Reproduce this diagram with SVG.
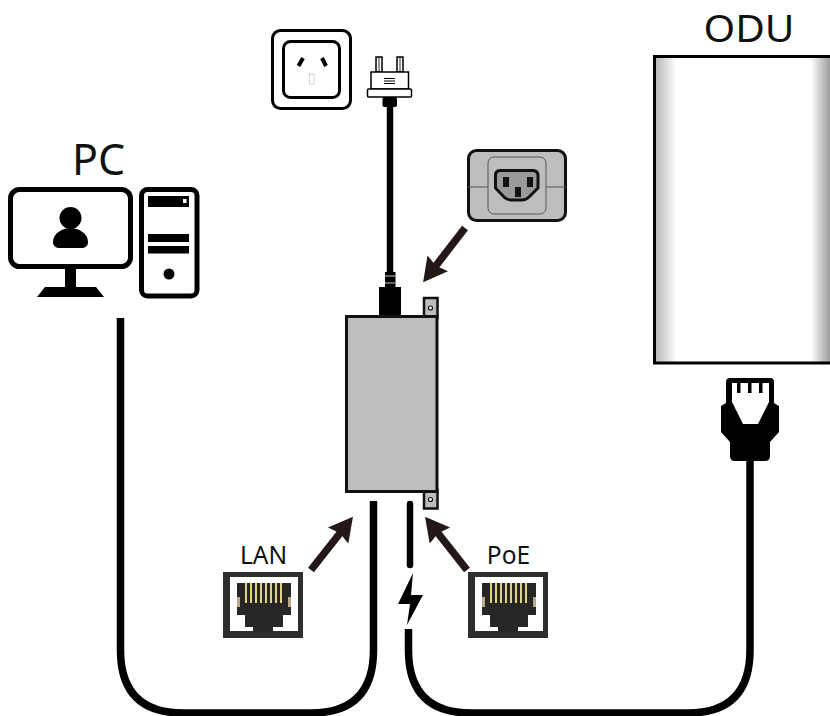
<svg xmlns="http://www.w3.org/2000/svg" width="830" height="716" viewBox="0 0 830 716">
<style>
text{font-family:"Noto Sans","Open Sans","Liberation Sans",sans-serif;fill:#111}
.cable{fill:none;stroke:#000;stroke-width:7.500}
.arrow{fill:none;stroke:#231815;stroke-width:7.500;marker-end:url(#ah)}
.pin{stroke:#ecdc8c;stroke-width:1.900;fill:none}
</style>
<defs>
<marker id="ah" markerUnits="userSpaceOnUse" markerWidth="26" markerHeight="28" refX="16" refY="13" orient="auto"><path d="M0 0L24 13L0 26L3 13Z" fill="#231815"/></marker>
<linearGradient id="odu" gradientUnits="userSpaceOnUse" x1="655" x2="830" y1="0" y2="0"><stop offset="0" stop-color="#b4b4b4"/><stop offset="0.12" stop-color="#fff"/><stop offset="0.89" stop-color="#fff"/><stop offset="1" stop-color="#9c9c9c"/></linearGradient>
<g id="rj"><rect x="0" y="0" width="80" height="66" fill="#2e2e2c"/><rect x="7" y="5" width="68" height="54" fill="#fff"/><path d="M14 11H68V43H60V55H50V60H30V55H22V43H14Z" fill="#262624"/><path d="M14 25h3v10h-3zM65 25h3v10h-3z" fill="#b9a98a"/><path class="pin" d="M23 11V31M28 11V31M33 11V31M38 11V31M43 11V31M48 11V31M53 11V31M58 11V31"/></g>
</defs>
<rect width="830" height="716" fill="#fff"/>
<g id="connectors">
<path class="cable" d="M120.500 318V650Q120.500 713 183 713H311Q373.500 713 373.500 650V501"/>
<path class="cable" d="M408.500 629V650Q408.500 713 471 713H688Q750 713 750 650V455"/>
<path class="cable" stroke-linecap="round" d="M410 504V565" style="stroke-width:6.500"/>
<path class="cable" d="M390 105V272" style="stroke-width:6.500"/>
<path class="arrow" d="M465 228L428 276"/>
<path class="arrow" d="M311 570L348 523"/>
<path class="arrow" d="M467 570L430 523"/>
</g>
<g id="pc">
<text x="98.500" y="175" font-size="43" text-anchor="middle">PC</text>
<rect x="10.500" y="189.500" width="120" height="77" rx="9" fill="#fff" stroke="#000" stroke-width="5"/>
<circle cx="70.500" cy="218" r="11" fill="#000"/><path d="M53 242C53 233 63 228 70.500 228S88 233 88 242C88 246 85 248 81 248H60C56 248 53 246 53 242Z" fill="#000"/>
<path d="M65 268H76V287H96L104 297H37L45 287H65Z" fill="#000"/>
<rect x="141.500" y="189.500" width="55.500" height="106.500" rx="6" fill="#fff" stroke="#000" stroke-width="5"/>
<rect x="148" y="196" width="41" height="11" fill="#000"/><rect x="183" y="199" width="3.500" height="4" fill="#fff"/>
<rect x="148" y="234" width="41" height="8" fill="#000"/><rect x="148" y="246" width="41" height="7.500" fill="#000"/>
<circle cx="169" cy="274" r="5.500" fill="#000"/>
</g>
<g id="socket">
<rect x="272.500" y="30.500" width="78" height="78" rx="8" fill="#fff" stroke="#000" stroke-width="3"/>
<rect x="283.500" y="41.500" width="56" height="56" rx="7" fill="#fff" stroke="#000" stroke-width="3"/>
<path d="M303 58L298.500 66M322 58L326 66" stroke="#000" stroke-width="4" fill="none"/>
<rect x="309.500" y="74" width="4.500" height="10" fill="#fff" stroke="#999" stroke-width="0.800" stroke-dasharray="1 1"/>
</g>
<g id="plug">
<rect x="376" y="57" width="6" height="15" fill="#fff" stroke="#000" stroke-width="1.500"/><path d="M379 57V72" stroke="#000" stroke-width="0.800"/><rect x="397" y="57" width="6" height="15" fill="#fff" stroke="#000" stroke-width="1.500"/><path d="M400 57V72" stroke="#000" stroke-width="0.800"/>
<rect x="371" y="72" width="37.500" height="17" fill="#fff" stroke="#000" stroke-width="1.500"/>
<path d="M384 78.500H395M384 81H395M384 83.500H395" stroke="#000" stroke-width="1.200"/>
<rect x="367.500" y="89" width="44" height="8" rx="1" fill="#fff" stroke="#000" stroke-width="1.500"/>
<rect x="382.500" y="97" width="14.500" height="10" rx="2" fill="#000"/>
</g>
<g id="iec">
<rect x="468.500" y="150.500" width="97" height="70" rx="8" fill="#bdbdbd" stroke="#111" stroke-width="3"/>
<path d="M468 187H488M546 187H566" stroke="#555" stroke-width="1"/>
<rect x="488" y="157" width="58" height="57" rx="6" fill="#bdbdbd" stroke="#555" stroke-width="1"/>
<path d="M500 170.500H533Q538 170.500 538 175.500V188L529 197Q526 200 522 200H511Q507 200 504 197L495.500 188V175.500Q495.500 170.500 500 170.500Z" fill="#999" stroke="#111" stroke-width="3"/>
<rect x="503" y="177" width="6" height="10" fill="#111"/><rect x="527" y="177" width="6" height="10" fill="#111"/><rect x="515" y="187" width="6" height="10" fill="#111"/>
</g>
<g id="poe-injector">
<rect x="379" y="287" width="22" height="29" fill="#000"/>
<rect x="385" y="272" width="10.500" height="16" fill="#000"/><path d="M385 276H395.500M385 283H395.500" stroke="#888" stroke-width="1.300"/>
<rect x="424" y="298" width="13.500" height="20" fill="#bdbdbd" stroke="#111" stroke-width="2.500"/><circle cx="430.500" cy="308" r="2" fill="#fff" stroke="#111" stroke-width="1.200"/>
<rect x="424" y="490" width="13.500" height="18.500" fill="#bdbdbd" stroke="#111" stroke-width="2.500"/><circle cx="430.500" cy="499.500" r="2" fill="#fff" stroke="#111" stroke-width="1.200"/>
<rect x="346.500" y="316.500" width="90.500" height="175" fill="#bdbdbd" stroke="#111" stroke-width="3"/>
</g>
<g id="odu">
<text x="749" y="42" font-size="39" text-anchor="middle" textLength="91" lengthAdjust="spacingAndGlyphs">ODU</text>
<rect x="654.500" y="56.500" width="180" height="306.500" fill="url(#odu)" stroke="#000" stroke-width="3"/>
</g>
<g id="rj45-plug">
<path d="M726 403V382Q726 378 730 378H770Q774 378 774 382V403L779 406V432L770 442V456Q770 461 765 461H735Q730 461 730 456V442L721 432V406ZM732 383V402L743 424H758L769 402V383Z" fill="#000" fill-rule="evenodd"/>
<path d="M737 383h3.500v10h-3.500zM748 383h3.500v10h-3.500zM759 383h3.500v10h-3.500z" fill="#000"/>
</g>
<g id="lan"><text x="263.500" y="564" font-size="24.500" text-anchor="middle">LAN</text><use href="#rj" x="223" y="572"/></g>
<g id="poe"><text x="508.500" y="564" font-size="24.500" text-anchor="middle">PoE</text><use href="#rj" x="468" y="572"/></g>
<g id="bolt"><path d="M413 573L398 604H410L407 625L423 595H411Z" fill="#000"/></g>
</svg>
